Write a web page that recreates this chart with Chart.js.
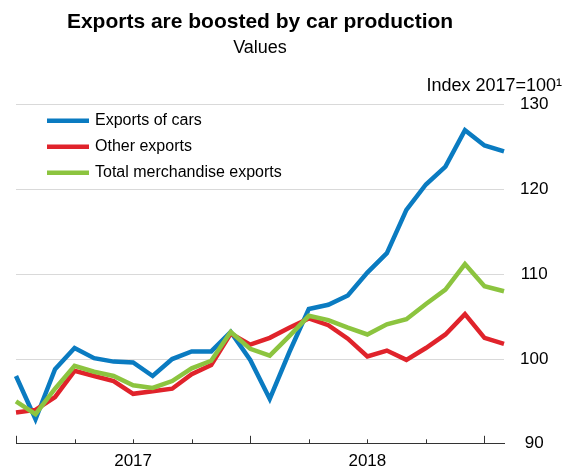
<!DOCTYPE html>
<html>
<head>
<meta charset="utf-8">
<script src="https://cdn.jsdelivr.net/npm/chart.js@4"></script>
<style>
  html, body { margin: 0; padding: 0; background: #fff; }
  #wrap { width: 563px; height: 470px; position: relative; }
</style>
</head>
<body>
<div id="wrap"><canvas id="exportsChart"></canvas></div>
<script>
// Monthly observations, Jan 2017 .. Feb 2019
const MONTHS = [
  'Jan 2017', 'Feb 2017', 'Mar 2017', 'Apr 2017', 'May 2017', 'Jun 2017',
  'Jul 2017', 'Aug 2017', 'Sep 2017', 'Oct 2017', 'Nov 2017', 'Dec 2017',
  'Jan 2018', 'Feb 2018', 'Mar 2018', 'Apr 2018', 'May 2018', 'Jun 2018',
  'Jul 2018', 'Aug 2018', 'Sep 2018', 'Oct 2018', 'Nov 2018', 'Dec 2018',
  'Jan 2019', 'Feb 2019'
];
const YEAR_LABELS = ['2017', '2018'];

const CARS  = [98.0, 92.9, 98.8, 101.3, 100.1, 99.7, 99.6, 98.0, 100.0, 100.9, 100.9, 103.2,
               99.9, 95.3, 100.8, 105.9, 106.4, 107.5, 110.2, 112.5, 117.6, 120.6, 122.7, 127.0,
               125.2, 124.5];
const OTHER = [93.7, 94.0, 95.5, 98.6, 98.0, 97.4, 95.9, 96.2, 96.5, 98.2, 99.3, 103.0,
               101.7, 102.5, 103.7, 104.8, 104.0, 102.4, 100.3, 101.0, 99.9, 101.3, 102.9, 105.3,
               102.5, 101.8];
const TOTAL = [95.0, 93.5, 96.5, 99.2, 98.5, 98.0, 96.9, 96.6, 97.4, 98.9, 99.8, 103.2,
               101.2, 100.4, 102.7, 105.1, 104.6, 103.7, 102.9, 104.1, 104.7, 106.5, 108.2, 111.2,
               108.6, 108.0];

const FONT = "'Liberation Sans', Arial, sans-serif";
const BLUE  = '#0a7bc1';
const RED   = '#e0232b';
const GREEN = '#8cc43f';
const AXIS  = '#333333';

// quarterly tick marks pointing up from the x axis, taller at year starts
const tickMarks = {
  id: 'tickMarks',
  afterDraw(chart) {
    const x = chart.scales.x;
    const ctx = chart.ctx;
    const base = chart.chartArea.bottom;
    ctx.save();
    ctx.strokeStyle = AXIS;
    ctx.lineWidth = 1;
    for (let i = 0; i < MONTHS.length; i += 3) {
      const px = Math.round(x.getPixelForValue(i)) + 0.5;
      const len = i % 12 === 0 ? 8 : 4.5;
      ctx.beginPath();
      ctx.moveTo(px, base);
      ctx.lineTo(px, base - len);
      ctx.stroke();
    }
    ctx.restore();
  }
};

// legend drawn inside the plot, top left
const innerLegend = {
  id: 'innerLegend',
  afterDraw(chart) {
    const ctx = chart.ctx;
    const { left, top } = chart.chartArea;
    ctx.save();
    ctx.font = '16px ' + FONT;
    ctx.textBaseline = 'middle';
    ctx.textAlign = 'left';
    chart.data.datasets.forEach((ds, i) => {
      const y = top + 16 + i * 26;
      ctx.strokeStyle = ds.borderColor;
      ctx.lineWidth = 4.5;
      ctx.beginPath();
      ctx.moveTo(left + 31, y);
      ctx.lineTo(left + 73, y);
      ctx.stroke();
      ctx.fillStyle = '#000';
      ctx.fillText(ds.label, left + 79, y);
    });
    ctx.restore();
  }
};

const unitLabel = {
  id: 'unitLabel',
  afterDraw(chart) {
    const ctx = chart.ctx;
    ctx.save();
    ctx.font = '18px ' + FONT;
    ctx.fillStyle = '#000';
    ctx.textAlign = 'right';
    ctx.textBaseline = 'middle';
    ctx.fillText('Index 2017=100\u00B9', 562, 86);
    ctx.restore();
  }
};

function line(label, data, color, order) {
  return {
    label, data,
    borderColor: color,
    backgroundColor: color,
    borderWidth: 4.5,
    pointRadius: 0,
    tension: 0,
    borderJoinStyle: 'miter',
    order
  };
}

new Chart(document.getElementById('exportsChart'), {
  type: 'line',
  data: {
    labels: MONTHS,
    datasets: [
      line('Exports of cars', CARS, BLUE, 2),
      line('Other exports', OTHER, RED, 1),
      line('Total merchandise exports', TOTAL, GREEN, 0)
    ]
  },
  options: {
    responsive: true,
    maintainAspectRatio: false,
    animation: false,
    layout: { padding: { left: 16, right: 0, top: 0, bottom: 0 } },
    plugins: {
      legend: { display: false },
      tooltip: { enabled: false },
      title: {
        display: true,
        text: 'Exports are boosted by car production',
        color: '#000',
        fullSize: false,
        font: { family: FONT, size: 21, weight: 'bold' },
        padding: { top: 10, bottom: 0 }
      },
      subtitle: {
        display: true,
        text: 'Values',
        color: '#000',
        fullSize: false,
        font: { family: FONT, size: 18 },
        padding: { top: 2, bottom: 46 }
      }
    },
    scales: {
      x: {
        type: 'category',
        offset: false,
        grid: { display: false, drawTicks: false },
        border: { display: true, color: AXIS, width: 1 },
        ticks: {
          autoSkip: false,
          maxRotation: 0,
          padding: 7,
          color: '#000',
          font: { family: FONT, size: 17 },
          callback: (v, i) => (i % 12 === 6 ? YEAR_LABELS[(i - 6) / 12] : '')
        },
        afterFit: scale => { scale.height = 25; }
      },
      y: {
        position: 'right',
        min: 90,
        max: 130,
        grid: { color: '#d9d9d9', lineWidth: 1, drawTicks: false },
        border: { display: false },
        ticks: {
          stepSize: 10,
          padding: 16,
          crossAlign: 'center',
          color: '#000',
          font: { family: FONT, size: 17 }
        },
        afterFit: scale => { scale.width = 59; }
      }
    }
  },
  plugins: [tickMarks, innerLegend, unitLabel]
});
</script>
</body>
</html>
